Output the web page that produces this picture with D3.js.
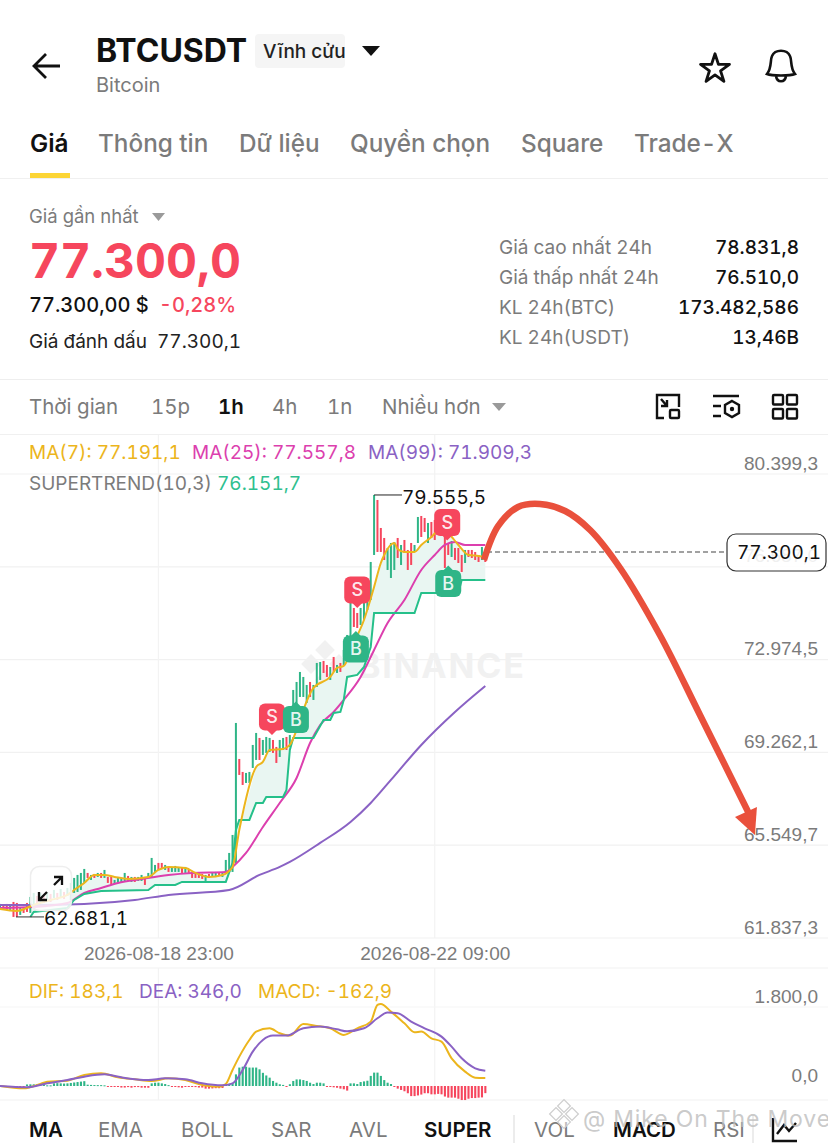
<!DOCTYPE html>
<html>
<head>
<meta charset="utf-8">
<script src="https://cdn.jsdelivr.net/npm/d3@7"></script>
<style>
  html, body { margin: 0; padding: 0; background: #fff; }
  svg { display: block; font-family: Inter, "Noto Sans", sans-serif; font-variant-numeric: tabular-nums; }
</style>
</head>
<body>
<div id="main"></div>
<script>
// candles, one per hour from 2026-08-17 00:00, prices in thousands of USDT
const candleOpen = [63.00,63.16,63.20,62.96,63.28,63.24,62.76,63.08,63.24,62.84,63.16,63.52,63.24,63.52,63.32,63.60,63.44,63.64,63.48,63.68,63.52,63.36,63.64,63.68,63.76,64.04,64.44,64.16,64.40,64.28,64.44,64.24,64.28,64.28,64.00,64.04,64.04,64.08,64.32,64.08,64.28,64.12,64.12,64.28,64.24,64.24,64.48,64.84,64.84,64.56,64.68,64.48,64.48,64.48,64.64,64.44,64.56,64.48,64.44,64.44,64.40,64.12,64.40,64.28,64.28,64.44,64.28,64.48,64.48,64.48,64.84,69.00,68.48,68.04,68.04,68.64,68.96,69.84,69.16,69.24,69.28,69.76,69.48,69.08,69.36,69.88,69.48,70.84,71.08,71.48,71.48,71.24,72.08,71.36,71.88,72.16,72.92,72.76,72.16,73.08,72.44,72.84,72.76,73.36,73.88,75.04,74.84,74.36,74.56,74.96,75.36,77.16,79.36,78.24,77.84,76.56,76.24,76.56,77.84,76.76,77.76,77.36,77.64,77.28,77.64,78.72,78.64,77.64,78.48,78.56,78.16,77.96,77.88,77.64,77.08,77.44,77.44,77.16,76.84,77.36,77.36,77.28,77.16,76.96,77.16];
const candleClose = [63.20,62.96,62.96,63.16,62.68,62.68,63.04,62.84,62.88,63.48,63.64,63.20,63.64,63.24,63.68,63.28,63.76,63.36,63.80,63.40,63.84,64.04,64.24,64.36,64.44,64.60,64.24,64.36,64.24,64.44,64.24,64.56,64.04,63.96,64.16,64.24,64.24,64.44,64.12,64.28,64.08,64.28,64.36,63.96,64.44,65.04,64.76,64.56,64.60,64.76,64.48,64.68,64.72,64.68,64.44,64.68,64.44,64.24,64.24,64.24,64.20,64.36,64.24,64.44,64.48,64.32,64.48,64.96,65.24,65.96,70.44,68.36,67.96,68.44,68.48,69.56,70.04,68.96,69.76,69.88,69.84,69.24,68.84,69.76,69.84,69.36,69.96,71.76,72.08,72.48,72.28,71.96,71.48,71.96,72.84,72.88,72.44,72.28,72.68,72.48,72.76,72.48,73.36,73.96,75.24,74.28,74.24,75.04,75.24,75.76,76.88,79.56,77.28,77.28,76.96,77.44,77.64,77.68,77.04,77.56,77.24,76.56,76.76,77.56,78.68,77.88,78.08,78.44,77.84,77.76,78.64,78.36,76.64,77.16,77.72,76.96,76.84,76.48,77.36,77.08,77.04,76.96,76.88,77.48,76.88];

// indicator lines as [hour, price]
const ma7 = [[0,63.00],[5,62.92],[10,63.16],[15,63.36],[20,63.56],[22,63.76],[25,64.04],[28,64.36],[31,64.36],[34,64.28],[38,64.20],[44,64.28],[47,64.56],[50,64.68],[55,64.64],[58,64.44],[62,64.28],[66,64.36],[69,64.68],[71,66.16],[76,68.68],[78,68.88],[80,69.36],[84,69.40],[86,69.56],[88,70.16],[90,70.96],[93,71.84],[98,72.28],[100,72.64],[102,72.72],[105,73.64],[108,74.56],[111,75.88],[113,76.84],[114,77.16],[117,77.64],[118,77.40],[120,77.28],[123,77.28],[125,77.56],[128,77.88],[131,78.24],[133,78.04],[136,77.56],[139,77.16],[142,77.12],[144,77.08]];
const ma25 = [[0,63.04],[10,63.08],[20,63.24],[25,63.64],[30,63.84],[35,64.04],[42,64.20],[50,64.36],[57,64.44],[67,64.48],[69,64.68],[73,65.24],[78,66.28],[83,67.24],[88,68.24],[92,69.64],[95,70.36],[99,70.88],[102,71.36],[107,72.28],[111,73.36],[115,74.44],[120,75.36],[125,76.56],[129,77.16],[132,77.56],[135,77.68],[138,77.56],[144,77.56]];
const ma99 = [[0,63.16],[10,63.16],[25,63.20],[40,63.36],[50,63.56],[68,63.76],[77,64.36],[83,64.68],[86,64.88],[95,65.64],[104,66.48],[110,67.24],[116,68.16],[125,69.56],[135,70.88],[144,71.92]];
const supertrend = [[9,62.68],[10,62.88],[20,63.04],[22,63.36],[25,63.60],[30,63.72],[44,63.76],[46,63.96],[52,63.96],[54,64.08],[67,64.08],[69,64.84],[70,66.16],[71,66.56],[74,66.56],[76,67.24],[78,67.24],[79,67.48],[84,67.48],[85,67.76],[86,69.36],[87,69.84],[93,69.84],[96,70.56],[98,70.56],[99,70.84],[101,70.88],[102,71.36],[103,72.28],[106,72.36],[108,72.68],[110,73.48],[111,74.84],[123,74.84],[125,75.64],[136,75.64],[137,76.16],[144,76.16]];

// macd pane
const dif = [[0,0],[7,-53],[12,46],[14,99],[20,122],[25,251],[30,289],[35,198],[40,152],[45,114],[50,175],[55,137],[60,23],[65,-15],[67,46],[69,365],[71,669],[74,1049],[76,1239],[80,1315],[83,1201],[86,1148],[90,1414],[94,1368],[98,1315],[102,1163],[106,1315],[110,1467],[112,1847],[113,1870],[116,1695],[120,1429],[123,1224],[125,1239],[128,1087],[131,1011],[134,631],[138,327],[141,190],[144,183]];
const dea = [[0,0],[8,-30],[14,61],[20,137],[25,213],[31,266],[36,198],[44,137],[49,175],[55,152],[60,61],[66,15],[69,61],[72,365],[75,783],[78,1049],[81,1148],[85,1148],[90,1315],[95,1353],[100,1292],[103,1246],[108,1315],[112,1543],[115,1672],[118,1657],[122,1467],[126,1315],[131,1125],[134,897],[137,631],[141,403],[144,346]];
const macdHist = [5,-5,-8,-10,-12,-15,-15,-20,35,38,38,38,38,35,15,15,60,65,60,55,60,70,80,90,100,110,30,25,22,20,20,15,-15,-15,-20,-20,-35,-35,-25,-38,-25,-25,-38,-38,-40,60,75,75,60,45,20,-15,-15,-30,-38,-20,-15,-20,-25,-35,-35,-60,-60,-55,-50,-50,-45,30,50,60,265,420,440,440,420,420,420,380,300,240,190,115,75,40,25,-20,40,115,150,150,135,115,75,45,75,75,60,-15,-20,-30,-40,-60,-75,-105,60,60,45,90,105,120,230,305,305,230,135,75,45,-20,-60,-90,-120,-165,-230,-230,-215,-195,-165,-165,-190,-190,-180,-190,-240,-265,-265,-265,-290,-320,-320,-290,-275,-275,-265,-260,-163];

// signal pins: hour, price of the pin centre
const signalType = ["S","B","S","B","S","B"];
const signalHour = [80.7,87.8,106,105.6,132.7,133];
const signalPrice = [70.68,70.58,75.76,73.40,78.46,76.02];

const priceTicks = [80399.3,76687.0,72974.5,69262.1,65549.7,61837.3];
const macdTicks = [1800,0];
const timeTicks = [new Date(2026,7,18,23),new Date(2026,7,22,9)];

// hand drawn forecast arrow as [hour, price]
const arrowPath = [[143.6,76.96],[147.8,78.32],[153.7,79.08],[160.2,79.20],[167.7,78.92],[175.1,78.16],[184,76.64],[195.8,73.96],[207.7,70.76],[222,66.88]];
const arrowHead = [[218.1,66.68],[224.6,67.08],[224,65.96]];

const tabs = [["Thông tin",98],["Dữ liệu",239],["Quyền chọn",350],["Square",521],["Trade-X",634]];
const stats = [["Giá cao nhất 24h","78.831,8"],["Giá thấp nhất 24h","76.510,0"],["KL 24h(BTC)","173.482,586"],["KL 24h(USDT)","13,46B"]];
const periods = [["Thời gian",29,0],["15p",151,0],["1h",218,1],["4h",272,0],["1n",327,0],["Nhiều hơn",382,0]];
const indicators = [["MA",29,1],["EMA",98,0],["BOLL",181,0],["SAR",271,0],["AVL",349,0],["SUPER",424,1],["VOL",534,0],["MACD",613,1],["RSI",713,0]];

const green = "#2fb587", red = "#f6465d", yellow = "#ecb51c", magenta = "#dc3fae", purple = "#8a62c4", grey = "#7b7b7b";
const ctx = {width: 828, height: 1144};

const svg = d3.select("#main").append("svg").attr("width", ctx.width).attr("height", ctx.height);

function label(str, x, y, size, fill, weight, anchor){
  return svg.append("text").attr("x", x).attr("y", y).attr("font-size", size)
    .attr("fill", fill).attr("font-weight", weight || 400).attr("text-anchor", anchor || "start").text(str);
}

function hline(y, color){
  svg.append("line").attr("x1", 0).attr("x2", ctx.width).attr("y1", y).attr("y2", y).attr("stroke", color || "#f1f1f1").attr("stroke-width", 1.2);
}

// scales
const hourMs = 3600000, t0 = new Date(2026,7,17,0);
const x = d3.scaleTime().domain([t0, new Date(2026,7,23,0)]).range([0, 485.3]);
const xh = h => x(new Date(+t0 + h*hourMs));
const y = d3.scaleLinear().domain([61.8373, 80.3993]).range([938, 474]);
const ym = d3.scaleLinear().domain([0, 1800]).range([1086, 1007]);
const fmt = d3.formatLocale({decimal: ",", thousands: ".", grouping: [3], currency: ["","$"]}).format(",.1f");

// header
svg.append("path").attr("d", "M60 66H34M46 54L34 66L46 78").attr("fill", "none").attr("stroke", "#111").attr("stroke-width", 2.8);
label("BTCUSDT", 96, 62, 32, "#111", 700);
svg.append("rect").attr("x", 255).attr("y", 34).attr("width", 90).attr("height", 34).attr("rx", 4).attr("fill", "#f5f5f5");
label("Vĩnh cửu", 263, 58, 19, "#222", 500);
svg.append("path").attr("d", "M362 46H380L371 56Z").attr("fill", "#111");
label("Bitcoin", 96, 92, 20, grey);
svg.append("path").attr("d", d3.symbol(d3.symbolStar, 260)()).attr("transform", "translate(715,69)").attr("fill", "none").attr("stroke", "#111").attr("stroke-width", 2.8).attr("stroke-linejoin", "round");
svg.append("path").attr("d", "M767 74C772 68 770 60 772 56C775 49 787 49 790 56C792 60 790 68 795 74C790 76 772 76 767 74ZM776 76C777 83 785 83 786 76")
  .attr("fill", "none").attr("stroke", "#111").attr("stroke-width", 2.6);

label("Giá", 30, 152, 24.3, "#111", 600);
tabs.forEach(d => label(d[0], d[1], 152, 24.3, grey, 500));
svg.append("rect").attr("x", 30).attr("y", 173).attr("width", 40).attr("height", 5).attr("fill", "#fcd535");
hline(178.5, "#f0f0f0");

// price block
label("Giá gần nhất", 29, 223, 18.5, grey);
svg.append("path").attr("d", "M152 213H165L158.5 221Z").attr("fill", "#9a9a9a");
label("77.300,0", 29, 278, 48, red, 700);
label("77.300,00 $", 29, 312, 20, "#111", 500);
label("-0,28%", 159, 312, 20, red, 500);
label("Giá đánh dấu", 29, 348, 19, "#222");
label("77.300,1", 157, 348, 19, "#222");
stats.forEach((d, i) => {
  label(d[0], 499, 254 + i*30, 19, grey);
  label(d[1], 799, 254 + i*30, 19, "#111", 500, "end");
});
hline(379.5, "#eeeeee");

// period bar
periods.forEach(d => label(d[0], d[1], 414, 20.5, d[2] ? "#111" : grey, d[2] ? 600 : 400));
svg.append("path").attr("d", "M492 403H506L499 411Z").attr("fill", "#9a9a9a");
const iconG = svg.append("g").attr("fill", "none").attr("stroke", "#111").attr("stroke-width", 2.4);
iconG.append("path").attr("d", "M664 418H657V395H679V407M661 399L667 406M667 400V406H661");
iconG.append("rect").attr("x", 670).attr("y", 410).attr("width", 9).attr("height", 8).attr("rx", 1);
iconG.append("path").attr("d", "M713 396H739M713 406H721M713 416H721M732 401L739 405V413L732 417L725 413V405Z");
svg.append("circle").attr("cx", 732).attr("cy", 409).attr("r", 2.2).attr("fill", "#111");
[[773,395],[787,395],[773,409],[787,409]].forEach(p =>
  iconG.append("rect").attr("x", p[0]).attr("y", p[1]).attr("width", 10).attr("height", 9.5).attr("rx", 1));
hline(434.5, "#f0f0f0");

// grid
priceTicks.forEach(d => hline(y(d/1000)));
hline(968); hline(1100);
timeTicks.forEach(d => {
  svg.append("line").attr("x1", x(d)).attr("x2", x(d)).attr("y1", 435).attr("y2", 938).attr("stroke", "#f3f3f3").attr("stroke-width", 1.2);
  svg.append("line").attr("x1", x(d)).attr("x2", x(d)).attr("y1", 968).attr("y2", 1100).attr("stroke", "#f3f3f3").attr("stroke-width", 1.2);
});
hline(ym(1800), "#f6f6f6");

// watermark
const wm = svg.append("g").attr("fill", "#f1f1f1");
[[325,650],[311,664],[339,664],[325,680]].forEach(p =>
  wm.append("rect").attr("x", p[0]-7).attr("y", p[1]-7).attr("width", 14).attr("height", 14).attr("transform", `rotate(45 ${p[0]} ${p[1]})`));
wm.append("text").attr("x", 358).attr("y", 678).attr("font-size", 34).attr("font-weight", 700).attr("letter-spacing", 1.8).text("BINANCE");

// legends
label("MA(7): 77.191,1", 29, 459, 19, yellow);
label("MA(25): 77.557,8", 192, 459, 19, magenta);
label("MA(99): 71.909,3", 368, 459, 19, purple);
label("SUPERTREND(10,3)", 29, 490, 19, grey);
label("76.151,7", 217, 490, 19, "#2fbf8f");

// supertrend band: from ma7 down to the supertrend line
const pline = d3.line().x(d => xh(d[0])).y(d => y(d[1]));
const bandTop = ma7.filter(d => d[0] >= 9);
svg.append("path").attr("d", pline(bandTop.concat(supertrend.slice().reverse())) + "Z").attr("fill", "#e9f6f2");

// candles
const candles = candleOpen.map((o, i) => ({h: i, o: o, c: candleClose[i]}));
svg.append("g").selectAll("rect").data(candles).join("rect")
  .attr("x", d => xh(d.h) - 1)
  .attr("width", 2)
  .attr("y", d => y(Math.max(d.o, d.c)))
  .attr("height", d => Math.max(1, Math.abs(y(d.o) - y(d.c))))
  .attr("fill", d => d.c >= d.o ? green : red);

// indicator lines
const smooth = d3.line().x(d => xh(d[0])).y(d => y(d[1])).curve(d3.curveMonotoneX);
[[ma99, purple],[ma25, magenta],[supertrend, "#25c08a"]].forEach(s => {
  svg.append("path").attr("d", (s[0] === supertrend ? pline : smooth)(s[0])).attr("fill", "none").attr("stroke", s[1]).attr("stroke-width", 2);
});
svg.append("path").attr("d", smooth(ma7)).attr("fill", "none").attr("stroke", yellow).attr("stroke-width", 2);

// expand button, translucent over the chart
svg.append("rect").attr("x", 30.5).attr("y", 866.5).attr("width", 41).attr("height", 44).attr("rx", 9)
  .attr("fill", "#fff").attr("fill-opacity", 0.82).attr("stroke", "#eeeeee").attr("stroke-width", 1.5);
svg.append("path").attr("d", "M39 900L47 892M39 892V900H47M54 885L62 877M54 877H62V885").attr("fill", "none").attr("stroke", "#111").attr("stroke-width", 2.3);

// high and low labels
const hi = d3.max(candleClose), lo = d3.min(candleClose);
svg.append("line").attr("x1", xh(111)).attr("x2", 402).attr("y1", y(hi)).attr("y2", y(hi)).attr("stroke", "#222");
label("79.555,5", 402, y(hi) + 9, 19, "#111");
svg.append("line").attr("x1", 16).attr("x2", 44).attr("y1", y(lo)).attr("y2", y(lo)).attr("stroke", "#333");
label("62.681,1", 44, y(lo) + 8, 19, "#111");

// signal pins
signalType.forEach((t, i) => {
  const cx = xh(signalHour[i]), cy = y(signalPrice[i]), col = t === "S" ? red : green;
  const g = svg.append("g").attr("transform", `translate(${cx},${cy})`);
  g.append("rect").attr("x", -13).attr("y", -13.5).attr("width", 26).attr("height", 27).attr("rx", 6).attr("fill", col);
  g.append("path").attr("d", t === "S" ? "M-5 13L0 18L5 13Z" : "M-5 -13L0 -18L5 -13Z").attr("fill", col);
  g.append("text").attr("text-anchor", "middle").attr("y", 6.5).attr("font-size", 18).attr("font-weight", 500).attr("fill", "#fff").attr("fill-opacity", 0.9).text(t);
});

// last price line
svg.append("line").attr("x1", 487).attr("x2", 727).attr("y1", 552).attr("y2", 552).attr("stroke", "#444").attr("stroke-width", 1.2).attr("stroke-dasharray", "5,3");

// price axis, labels sit above their grid line
const yAxis = d3.axisRight(y).tickValues(priceTicks.map(d => d/1000)).tickSize(0).tickFormat(d => fmt(d*1000));
const yAxisG = svg.append("g").attr("transform", "translate(818,0)").call(yAxis);
yAxisG.select(".domain").remove();
yAxisG.selectAll("text").attr("x", 0).attr("dy", -5).attr("text-anchor", "end").attr("font-size", 19).attr("font-family", "inherit").attr("fill", grey);

// red forecast arrow
svg.append("path").attr("d", d3.line().x(d => xh(d[0])).y(d => y(d[1])).curve(d3.curveCatmullRom)(arrowPath))
  .attr("fill", "none").attr("stroke", "#e9503c").attr("stroke-width", 6.5);
svg.append("path").attr("d", pline(arrowHead) + "Z").attr("fill", "#e9503c");

// current price box
svg.append("rect").attr("x", 727).attr("y", 534).attr("width", 99).attr("height", 37).attr("rx", 9)
  .attr("fill", "#fff").attr("fill-opacity", 0.88).attr("stroke", "#333").attr("stroke-width", 1.2);
label("77.300,1", 737, 559, 19, "#111");

// time axis
const xAxis = d3.axisBottom(x).tickValues(timeTicks).tickSize(0).tickFormat(d3.timeFormat("%Y-%m-%d %H:%M"));
const xAxisG = svg.append("g").attr("transform", "translate(0,938)").call(xAxis);
xAxisG.select(".domain").remove();
xAxisG.selectAll("text").attr("y", 22).attr("dy", 0).attr("font-size", 19).attr("font-family", "inherit").attr("fill", grey);

// macd pane
label("DIF: 183,1", 29, 998, 19, yellow);
label("DEA: 346,0", 139, 998, 19, purple);
label("MACD: -162,9", 258, 998, 19, yellow);
svg.append("g").selectAll("rect").data(macdHist).join("rect")
  .attr("x", (d, i) => xh(i) - 1)
  .attr("width", 2.1)
  .attr("y", d => ym(Math.max(0, d)))
  .attr("height", d => Math.max(1, Math.abs(ym(d) - ym(0))))
  .attr("fill", d => d >= 0 ? green : red);
const mline = d3.line().x(d => xh(d[0])).y(d => ym(d[1])).curve(d3.curveMonotoneX);
svg.append("path").attr("d", mline(dif)).attr("fill", "none").attr("stroke", yellow).attr("stroke-width", 2);
svg.append("path").attr("d", mline(dea)).attr("fill", "none").attr("stroke", purple).attr("stroke-width", 2);
const mAxis = d3.axisRight(ym).tickValues(macdTicks).tickSize(0).tickFormat(d => fmt(d));
const mAxisG = svg.append("g").attr("transform", "translate(818,0)").call(mAxis);
mAxisG.select(".domain").remove();
mAxisG.selectAll("text").attr("x", 0).attr("dy", -5).attr("text-anchor", "end").attr("font-size", 19).attr("font-family", "inherit").attr("fill", grey);

// bottom tabs
indicators.forEach(d => label(d[0], d[1], 1137, 20.5, d[2] ? "#111" : grey, d[2] ? 600 : 400));
svg.append("line").attr("x1", 514).attr("x2", 514).attr("y1", 1115).attr("y2", 1143).attr("stroke", "#e6e6e6").attr("stroke-width", 1.5);
svg.append("line").attr("x1", 753).attr("x2", 753).attr("y1", 1115).attr("y2", 1143).attr("stroke", "#e6e6e6").attr("stroke-width", 1.5);
svg.append("path").attr("d", "M773 1118V1141H797M777 1134L784 1125L789 1131L796 1123").attr("fill", "none").attr("stroke", "#111").attr("stroke-width", 2.4);

// site watermark over the tabs
const wm2 = svg.append("g").attr("fill", "#fff").attr("stroke", "#cfcfcf").attr("stroke-width", 1.3).attr("fill-opacity", 0.5);
[[564,1106],[556,1114],[572,1114],[564,1122]].forEach(p =>
  wm2.append("rect").attr("x", p[0]-4.5).attr("y", p[1]-4.5).attr("width", 9).attr("height", 9).attr("transform", `rotate(45 ${p[0]} ${p[1]})`));
svg.append("text").attr("x", 583).attr("y", 1127).attr("font-size", 23).attr("letter-spacing", 0.9).attr("fill", "#bdbdbd").attr("fill-opacity", 0.8).text("@ Mike On The Move");
</script>
</body>
</html>
